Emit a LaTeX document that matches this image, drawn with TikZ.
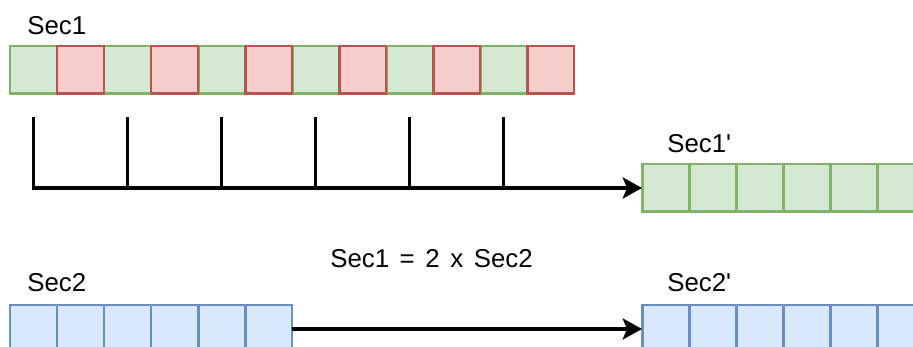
\documentclass[tikz,border=0pt]{standalone}
\usepackage{fontspec}
\setmainfont{Liberation Sans}
\usepackage{tikz}
\usetikzlibrary{arrows.meta,positioning}

\definecolor{greenfill}{HTML}{D5E8D4}
\definecolor{greenline}{HTML}{82B366}
\definecolor{redfill}{HTML}{F8CECC}
\definecolor{redline}{HTML}{B85450}
\definecolor{bluefill}{HTML}{DAE8FC}
\definecolor{blueline}{HTML}{6C8EBF}

\begin{document}
\begin{tikzpicture}[x=0.02cm,y=-0.02cm,>={Stealth[length=11pt,width=12pt,inset=2.5pt]},font=\fontsize{14.7}{17}\selectfont]
		\tikzstyle{cell}=[rectangle, line width=1.7pt, outer sep=0pt, inner sep=0pt, minimum width=0.94cm, minimum height=0.96cm]
		\tikzstyle{cell green}=[cell, draw=greenline, fill=greenfill]
		\tikzstyle{cell red}=[cell, draw=redline, fill=redfill]
		\tikzstyle{cell blue}=[cell, draw=blueline, fill=bluefill]
		\tikzstyle{label}=[anchor=base west, inner sep=0pt]
		\tikzstyle{line}=[line width=2pt, draw=black]

		\useasboundingbox (0,0) rectangle (913,347);
		\clip (0,0) rectangle (913,347);

		% Sec1: green and red cells in turn
		\foreach \i in {1,3,...,11}
			\node [cell green] (a\i) at ({33.5+47*(\i-1)},70) {};
		\foreach \i in {2,4,...,12}
			\node [cell red] (a\i) at ({33.5+47*(\i-1)},70) {};

		% Sec1', Sec2, Sec2'
		\foreach \i in {1,...,6} {
			\node [cell green] (b\i) at ({665.5+47*(\i-1)},188) {};
			\node [cell blue] (c\i) at ({33.5+47*(\i-1)},329) {};
			\node [cell blue] (d\i) at ({665.5+47*(\i-1)},329) {};
		}

		\node [label] (sec1) at (27,35) {Sec1};
		\node [label] (sec1p) at (667,153) {Sec1\textquotesingle};
		\node [label] (sec2) at (27,292) {Sec2};
		\node [label] (sec2p) at (667,292) {Sec2\textquotesingle};
		\node [anchor=base, inner sep=0pt] (ratio) at (431.5,268) {\spaceskip=0.41em Sec1 = 2 x Sec2};

		% ticks under the green cells
		\foreach \i in {1,3,...,11}
			\coordinate (tk\i) at ([yshift=-0.46cm]a\i.south);
		\draw [line,->] (tk1) -- (a1 |- b1.west) -- (b1.west);
		\foreach \i in {3,5,...,11}
			\draw [line] (tk\i) -- (a\i |- b1.west);

		\draw [line,->] (c6.east) -- (d1.west);
	\end{tikzpicture}
\end{document}
